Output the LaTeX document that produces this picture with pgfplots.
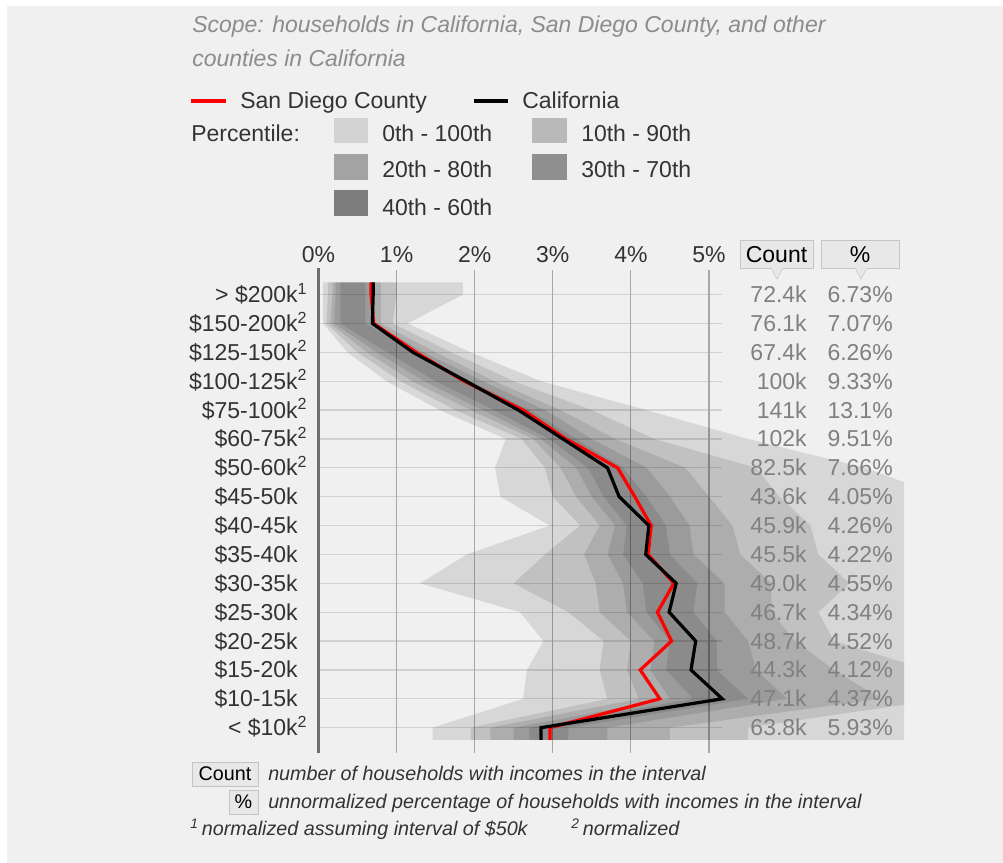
\documentclass[border=0pt]{standalone}
\usepackage{pgfplots}
\pgfplotsset{compat=1.18}
\usepackage{pgfplotstable}
\usepackage{fontspec}
\setmainfont{Liberation Sans}
\definecolor{bg}{HTML}{F0F0F0}
\definecolor{scopegray}{HTML}{8C8C8C}
\definecolor{labelgray}{HTML}{333333}
\definecolor{valgray}{HTML}{808080}
\definecolor{hgrid}{HTML}{D2D2D2}
\definecolor{vgrid}{HTML}{A8A8A8}
\definecolor{axisgray}{HTML}{6E6E6E}
\definecolor{hdrfill}{HTML}{E8E8E8}
\definecolor{hdrborder}{HTML}{C4C4C4}
\definecolor{swA}{HTML}{D3D3D3}
\definecolor{swB}{HTML}{B9B9B9}
\definecolor{swC}{HTML}{A3A3A3}
\definecolor{swD}{HTML}{8F8F8F}
\definecolor{swE}{HTML}{7D7D7D}
\newcommand{\mainsize}{\fontsize{17.25}{20.7}\selectfont}
\newcommand{\smallsize}{\fontsize{14.8}{17.8}\selectfont}

% percentile band outlines (percent per $5k): going down the lower bounds, then back up the upper bounds.
% b0 = 0th-100th, b1 = 10th-90th, b2 = 20th-80th, b3 = 30th-70th, b4 = 40th-60th; yy = row (0 = top)
\pgfplotstableread{
yy     b0   b1   b2   b3   b4
-0.42  0.06 0.12 0.18 0.22 0.28
0      0.06 0.12 0.18 0.22 0.28
1      0.06 0.10 0.15 0.20 0.28
2      0.37 0.50 0.62 0.75 0.88
3      0.87 1.05 1.20 1.35 1.50
4      1.55 1.75 1.95 2.10 2.25
5      2.40 2.60 2.75 2.85 2.95
6      2.26 2.90 3.10 3.30 3.45
7      2.33 3.00 3.30 3.50 3.65
8      2.96 3.35 3.60 3.80 3.95
9      1.90 2.90 3.40 3.70 3.90
10     1.30 2.50 3.55 3.90 4.15
11     2.58 3.20 3.60 3.95 4.20
12     2.88 3.65 4.00 4.30 4.50
13     2.67 3.60 3.95 4.25 4.45
14     2.62 3.70 4.10 4.50 4.80
15     1.46 1.95 2.20 2.50 2.70
15.42  1.46 1.95 2.20 2.50 2.70
15.42  8.00 5.50 4.50 3.70 3.20
15     8.00 5.50 4.50 3.70 3.20
14     8.00 8.00 7.20 6.00 5.50
13     8.00 7.80 6.60 5.60 5.10
12     8.00 6.60 6.10 5.50 5.10
11     8.00 6.40 5.80 5.20 4.80
10     8.00 6.80 5.80 5.20 4.85
9      8.00 6.40 5.40 4.80 4.50
8      8.00 6.30 5.30 4.75 4.45
7      8.00 5.90 5.00 4.50 4.20
6      7.00 5.60 4.70 4.20 3.90
5      5.50 4.30 3.80 3.50 3.30
4      4.20 3.50 3.10 2.90 2.70
3      2.85 2.50 2.25 2.10 1.95
2      1.95 1.70 1.50 1.35 1.25
1      1.14 0.95 0.80 0.70 0.60
0      1.85 1.00 0.80 0.70 0.60
-0.42  1.85 1.00 0.80 0.70 0.60
}\bands

% lines: California (CA) and San Diego County (SD)
\pgfplotstableread{
y      CA    SD
-0.42  0.70  0.673
0      0.70  0.673
1      0.69  0.707
2      1.21  1.252
3      1.89  1.866
4      2.56  2.62
5      3.13  3.17
6      3.70  3.83
7      3.85  4.05
8      4.23  4.26
9      4.19  4.22
10     4.58  4.55
11     4.49  4.34
12     4.83  4.52
13     4.77  4.12
14     5.17  4.37
15     2.85  2.965
15.42  2.85  2.965
}\lines

\begin{document}
\begin{tikzpicture}[font=\mainsize]
\begin{scope}[x=0.75pt,y=-0.75pt]
\useasboundingbox (0,0) rectangle (1003,863);
\fill[white] (0,0) rectangle (1003,863);
\fill[bg] (7,6) rectangle (1003,863);

% scope
\node[anchor=base west, inner sep=0, text=scopegray, font=\mainsize\itshape] at (192,33) {Scope: households in California, San Diego County, and other};
\node[anchor=base west, inner sep=0, text=scopegray, font=\mainsize\itshape] at (192,67) {counties in California};

% legend
\draw[red, line width=2.4pt] (191,101) -- (226,101);
\node[anchor=base west, inner sep=0, text=labelgray] at (240,109) {San Diego County};
\draw[black, line width=2.4pt] (474,101) -- (508,101);
\node[anchor=base west, inner sep=0, text=labelgray] at (522,109) {California};
\node[anchor=base west, inner sep=0, text=labelgray] at (191,142) {Percentile:};
\fill[swA] (334,118) rectangle (368,143);
\node[anchor=base west, inner sep=0, text=labelgray] at (382,142) {0th - 100th};
\fill[swB] (532,118) rectangle (567,143);
\node[anchor=base west, inner sep=0, text=labelgray] at (581,142) {10th - 90th};
\fill[swC] (334,154) rectangle (368,180);
\node[anchor=base west, inner sep=0, text=labelgray] at (382,178) {20th - 80th};
\fill[swD] (532,154) rectangle (567,180);
\node[anchor=base west, inner sep=0, text=labelgray] at (581,178) {30th - 70th};
\fill[swE] (334,190) rectangle (368,216);
\node[anchor=base west, inner sep=0, text=labelgray] at (382,215) {40th - 60th};

% grid
\foreach \i in {0,...,15}
  \draw[hgrid, line width=1pt] (318.5,{294.6+28.87*\i}) -- (722,{294.6+28.87*\i});
\foreach \k in {1,...,5}
  \draw[vgrid, line width=0.8pt] ({318.5+78.1*\k},270) -- ({318.5+78.1*\k},753);

% x tick labels
\foreach \k in {0,...,5}
  \node[anchor=base, inner sep=0, text=labelgray] at ({318.5+78.1*\k},262) {\k\%};
\end{scope}

\begin{axis}[
  at={(238.875pt,-554.85pt)}, anchor=south west,
  scale only axis, width=439.3pt, height=343pt,
  xmin=0, xmax=7.5, ymin=-0.42, ymax=15.42, y dir=reverse,
  axis line style={draw=none}, ticks=none,
]
\addplot[fill=black, fill opacity=0.1, draw=none, forget plot] table[x=b0,y=yy]{\bands} -- cycle;
\addplot[fill=black, fill opacity=0.1, draw=none, forget plot] table[x=b1,y=yy]{\bands} -- cycle;
\addplot[fill=black, fill opacity=0.1, draw=none, forget plot] table[x=b2,y=yy]{\bands} -- cycle;
\addplot[fill=black, fill opacity=0.1, draw=none, forget plot] table[x=b3,y=yy]{\bands} -- cycle;
\addplot[fill=black, fill opacity=0.1, draw=none, forget plot] table[x=b4,y=yy]{\bands} -- cycle;
\addplot[red, line width=2.4pt, mark=none] table[x=SD,y=y]{\lines};
\addplot[black, line width=2.4pt, mark=none] table[x=CA,y=y]{\lines};
\end{axis}

\begin{scope}[x=0.75pt,y=-0.75pt]
% axis line at 0%
\draw[axisgray, line width=1.6pt] (318.5,268) -- (318.5,753);

% row labels
\foreach \i/\lab/\sup in {0/{> \$200k}/1, 1/{\$150-200k}/2, 2/{\$125-150k}/2, 3/{\$100-125k}/2,
  4/{\$75-100k}/2, 5/{\$60-75k}/2, 6/{\$50-60k}/2, 7/{\$45-50k}/{}, 8/{\$40-45k}/{},
  9/{\$35-40k}/{}, 10/{\$30-35k}/{}, 11/{\$25-30k}/{}, 12/{\$20-25k}/{}, 13/{\$15-20k}/{},
  14/{\$10-15k}/{}, 15/{< \$10k}/2}
  \node[anchor=base east, inner sep=0, text=labelgray] at (298,{294.6+28.87*\i+8}) {\lab\rlap{\textsuperscript{\sup}}};

% count and percent columns
\draw[fill=hdrfill, draw=hdrborder] (740,240) rectangle (813,268);
\node[anchor=base, inner sep=0, text=black] at (776.5,262) {Count};
\draw[fill=hdrfill, draw=hdrborder] (771,268) -- (777,279) -- (783,268);
\draw[fill=hdrfill, draw=hdrborder] (821,240) rectangle (899,268);
\node[anchor=base, inner sep=0, text=black] at (860,262) {\%};
\draw[fill=hdrfill, draw=hdrborder] (855,268) -- (861,279) -- (867,268);
\foreach \i/\c/\p in {0/72.4k/6.73, 1/76.1k/7.07, 2/67.4k/6.26, 3/100k/9.33, 4/141k/13.1,
  5/102k/9.51, 6/82.5k/7.66, 7/43.6k/4.05, 8/45.9k/4.26, 9/45.5k/4.22, 10/49.0k/4.55,
  11/46.7k/4.34, 12/48.7k/4.52, 13/44.3k/4.12, 14/47.1k/4.37, 15/63.8k/5.93}
{
  \node[anchor=base east, inner sep=0, text=valgray] at (807,{294.6+28.87*\i+8}) {\c};
  \node[anchor=base east, inner sep=0, text=valgray] at (893,{294.6+28.87*\i+8}) {\p\%};
}

% footnotes
\draw[fill=hdrfill, draw=hdrborder] (192,762) rectangle (258,786);
\node[anchor=base, inner sep=0, text=black, font=\smallsize] at (225,780) {Count};
\node[anchor=base west, inner sep=0, text=labelgray, font=\smallsize\itshape] at (268,780) {number of households with incomes in the interval};
\draw[fill=hdrfill, draw=hdrborder] (229,790) rectangle (258,814);
\node[anchor=base, inner sep=0, text=black, font=\smallsize] at (243.5,808) {\%};
\node[anchor=base west, inner sep=0, text=labelgray, font=\smallsize\itshape] at (268,808) {unnormalized percentage of households with incomes in the interval};
\node[anchor=base west, inner sep=0, text=labelgray, font=\smallsize\itshape] at (190,835) {\textsuperscript{1}\,normalized assuming interval of \$50k};
\node[anchor=base west, inner sep=0, text=labelgray, font=\smallsize\itshape] at (571,835) {\textsuperscript{2}\,normalized};
\end{scope}
\end{tikzpicture}
\end{document}
